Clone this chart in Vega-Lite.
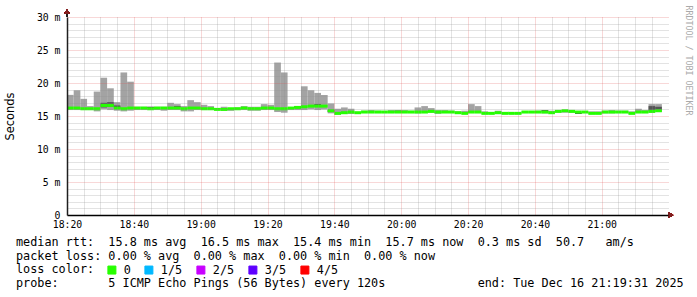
{
  "$schema": "https://vega.github.io/schema/vega-lite/v6.json",
  "width": 601,
  "height": 198,
  "autosize": {"type": "none"},
  "padding": {"left": 67, "top": 17, "right": 29, "bottom": 82},
  "background": "#ffffff",
  "config": {
    "view": {"stroke": null},
    "axis": {"labelFont": "DejaVu Sans Mono", "labelFontSize": 9.8, "labelColor": "#000000"}
  },
  "title": {
    "text": [
      "median rtt:\u00a0\u00a015.8 ms avg\u00a0\u00a016.5 ms max\u00a0\u00a015.4 ms min\u00a0\u00a015.7 ms now\u00a0\u00a00.3 ms sd\u00a0\u00a050.7\u00a0\u00a0\u00a0am/s",
      "packet loss: 0.00 % avg\u00a0\u00a00.00 % max\u00a0\u00a00.00 % min\u00a0\u00a00.00 % now",
      "loss color:",
      "probe:\u00a0\u00a0\u00a0\u00a0\u00a0\u00a0\u00a05 ICMP Echo Pings (56 Bytes) every 120s\u00a0\u00a0\u00a0\u00a0\u00a0\u00a0\u00a0\u00a0\u00a0\u00a0\u00a0\u00a0\u00a0end: Tue Dec 16 21:19:31 2025"
    ],
    "orient": "bottom",
    "anchor": "start",
    "frame": "group",
    "dx": -51,
    "offset": -40,
    "font": "DejaVu Sans Mono",
    "fontSize": 11.8,
    "fontWeight": "normal",
    "color": "#000000",
    "lineHeight": 13.7,
    "baseline": "top"
  },
  "data": {
    "values": [
      {"t": "2025-12-16T18:20", "e": "2025-12-16T18:22", "lo": 15.9, "hi": 18.2, "med": 16.2, "loss": "0"},
      {"t": "2025-12-16T18:22", "e": "2025-12-16T18:24", "lo": 15.9, "hi": 18.9, "med": 16.2, "loss": "0"},
      {"t": "2025-12-16T18:24", "e": "2025-12-16T18:26", "lo": 15.9, "hi": 17.6, "med": 16.1, "loss": "0"},
      {"t": "2025-12-16T18:26", "e": "2025-12-16T18:28", "lo": 15.9, "hi": 16.5, "med": 16.1, "loss": "0"},
      {"t": "2025-12-16T18:28", "e": "2025-12-16T18:30", "lo": 15.7, "hi": 18.7, "med": 16.1, "loss": "0"},
      {"t": "2025-12-16T18:30", "e": "2025-12-16T18:32", "lo": 16.0, "hi": 20.8, "med": 16.6, "dlo": 16.3, "dhi": 17.0, "loss": "0"},
      {"t": "2025-12-16T18:32", "e": "2025-12-16T18:34", "lo": 15.9, "hi": 19.2, "med": 16.6, "dlo": 16.4, "dhi": 17.1, "loss": "0"},
      {"t": "2025-12-16T18:34", "e": "2025-12-16T18:36", "lo": 15.8, "hi": 17.1, "med": 16.2, "dlo": 16.1, "dhi": 16.6, "loss": "0"},
      {"t": "2025-12-16T18:36", "e": "2025-12-16T18:38", "lo": 15.7, "hi": 21.6, "med": 16.1, "loss": "0"},
      {"t": "2025-12-16T18:38", "e": "2025-12-16T18:40", "lo": 15.8, "hi": 20.2, "med": 16.2, "loss": "0"},
      {"t": "2025-12-16T18:40", "e": "2025-12-16T18:42", "lo": 15.9, "hi": 16.4, "med": 16.2, "loss": "0"},
      {"t": "2025-12-16T18:42", "e": "2025-12-16T18:44", "lo": 15.9, "hi": 16.4, "med": 16.2, "loss": "0"},
      {"t": "2025-12-16T18:44", "e": "2025-12-16T18:46", "lo": 15.9, "hi": 16.4, "med": 16.1, "dlo": 16.2, "dhi": 16.4, "loss": "0"},
      {"t": "2025-12-16T18:46", "e": "2025-12-16T18:48", "lo": 15.9, "hi": 16.4, "med": 16.2, "loss": "0"},
      {"t": "2025-12-16T18:48", "e": "2025-12-16T18:50", "lo": 15.8, "hi": 16.4, "med": 16.2, "loss": "0"},
      {"t": "2025-12-16T18:50", "e": "2025-12-16T18:52", "lo": 15.9, "hi": 17.0, "med": 16.2, "loss": "0"},
      {"t": "2025-12-16T18:52", "e": "2025-12-16T18:54", "lo": 15.9, "hi": 16.8, "med": 16.2, "dlo": 16.3, "dhi": 16.5, "loss": "0"},
      {"t": "2025-12-16T18:54", "e": "2025-12-16T18:56", "lo": 15.7, "hi": 16.5, "med": 16.1, "loss": "0"},
      {"t": "2025-12-16T18:56", "e": "2025-12-16T18:58", "lo": 15.7, "hi": 17.4, "med": 16.2, "loss": "0"},
      {"t": "2025-12-16T18:58", "e": "2025-12-16T19:00", "lo": 15.9, "hi": 17.1, "med": 16.2, "loss": "0"},
      {"t": "2025-12-16T19:00", "e": "2025-12-16T19:02", "lo": 15.9, "hi": 16.7, "med": 16.1, "loss": "0"},
      {"t": "2025-12-16T19:02", "e": "2025-12-16T19:04", "lo": 15.9, "hi": 16.5, "med": 16.1, "loss": "0"},
      {"t": "2025-12-16T19:04", "e": "2025-12-16T19:06", "lo": 15.9, "hi": 16.2, "med": 16.0, "loss": "0"},
      {"t": "2025-12-16T19:06", "e": "2025-12-16T19:08", "lo": 15.8, "hi": 16.4, "med": 16.0, "loss": "0"},
      {"t": "2025-12-16T19:08", "e": "2025-12-16T19:10", "lo": 15.8, "hi": 16.2, "med": 16.1, "dlo": 15.9, "dhi": 16.1, "loss": "0"},
      {"t": "2025-12-16T19:10", "e": "2025-12-16T19:12", "lo": 15.9, "hi": 16.3, "med": 16.1, "loss": "0"},
      {"t": "2025-12-16T19:12", "e": "2025-12-16T19:14", "lo": 15.9, "hi": 16.5, "med": 16.2, "loss": "0"},
      {"t": "2025-12-16T19:14", "e": "2025-12-16T19:16", "lo": 15.8, "hi": 16.4, "med": 16.1, "loss": "0"},
      {"t": "2025-12-16T19:16", "e": "2025-12-16T19:18", "lo": 15.8, "hi": 16.4, "med": 16.1, "loss": "0"},
      {"t": "2025-12-16T19:18", "e": "2025-12-16T19:20", "lo": 15.9, "hi": 16.8, "med": 16.2, "loss": "0"},
      {"t": "2025-12-16T19:20", "e": "2025-12-16T19:22", "lo": 15.9, "hi": 16.7, "med": 16.2, "loss": "0"},
      {"t": "2025-12-16T19:22", "e": "2025-12-16T19:24", "lo": 15.6, "hi": 23.1, "med": 16.1, "loss": "0"},
      {"t": "2025-12-16T19:24", "e": "2025-12-16T19:26", "lo": 15.5, "hi": 21.6, "med": 16.1, "loss": "0"},
      {"t": "2025-12-16T19:26", "e": "2025-12-16T19:28", "lo": 15.9, "hi": 16.2, "med": 16.2, "loss": "0"},
      {"t": "2025-12-16T19:28", "e": "2025-12-16T19:30", "lo": 15.9, "hi": 16.4, "med": 16.3, "dlo": 16.2, "dhi": 16.5, "loss": "0"},
      {"t": "2025-12-16T19:30", "e": "2025-12-16T19:32", "lo": 15.9, "hi": 19.5, "med": 16.4, "loss": "0"},
      {"t": "2025-12-16T19:32", "e": "2025-12-16T19:34", "lo": 16.0, "hi": 18.9, "med": 16.5, "loss": "0"},
      {"t": "2025-12-16T19:34", "e": "2025-12-16T19:36", "lo": 15.9, "hi": 18.5, "med": 16.5, "dlo": 16.4, "dhi": 16.8, "loss": "0"},
      {"t": "2025-12-16T19:36", "e": "2025-12-16T19:38", "lo": 16.0, "hi": 18.2, "med": 16.5, "loss": "0"},
      {"t": "2025-12-16T19:38", "e": "2025-12-16T19:40", "lo": 15.4, "hi": 16.9, "med": 15.8, "dlo": 15.6, "dhi": 15.9, "loss": "0"},
      {"t": "2025-12-16T19:40", "e": "2025-12-16T19:42", "lo": 15.2, "hi": 16.1, "med": 15.4, "loss": "0"},
      {"t": "2025-12-16T19:42", "e": "2025-12-16T19:44", "lo": 15.3, "hi": 16.3, "med": 15.5, "loss": "0"},
      {"t": "2025-12-16T19:44", "e": "2025-12-16T19:46", "lo": 15.3, "hi": 16.1, "med": 15.6, "loss": "0"},
      {"t": "2025-12-16T19:46", "e": "2025-12-16T19:48", "lo": 15.4, "hi": 15.6, "med": 15.5, "loss": "0"},
      {"t": "2025-12-16T19:48", "e": "2025-12-16T19:50", "lo": 15.5, "hi": 15.8, "med": 15.6, "loss": "0"},
      {"t": "2025-12-16T19:50", "e": "2025-12-16T19:52", "lo": 15.5, "hi": 15.9, "med": 15.6, "loss": "0"},
      {"t": "2025-12-16T19:52", "e": "2025-12-16T19:54", "lo": 15.5, "hi": 15.8, "med": 15.6, "loss": "0"},
      {"t": "2025-12-16T19:54", "e": "2025-12-16T19:56", "lo": 15.5, "hi": 15.7, "med": 15.6, "loss": "0"},
      {"t": "2025-12-16T19:56", "e": "2025-12-16T19:58", "lo": 15.5, "hi": 15.9, "med": 15.6, "loss": "0"},
      {"t": "2025-12-16T19:58", "e": "2025-12-16T20:00", "lo": 15.5, "hi": 15.9, "med": 15.6, "dlo": 15.5, "dhi": 15.8, "loss": "0"},
      {"t": "2025-12-16T20:00", "e": "2025-12-16T20:02", "lo": 15.5, "hi": 15.9, "med": 15.6, "loss": "0"},
      {"t": "2025-12-16T20:02", "e": "2025-12-16T20:04", "lo": 15.5, "hi": 15.8, "med": 15.6, "loss": "0"},
      {"t": "2025-12-16T20:04", "e": "2025-12-16T20:06", "lo": 15.4, "hi": 16.3, "med": 15.6, "loss": "0"},
      {"t": "2025-12-16T20:06", "e": "2025-12-16T20:08", "lo": 15.5, "hi": 16.5, "med": 15.6, "loss": "0"},
      {"t": "2025-12-16T20:08", "e": "2025-12-16T20:10", "lo": 15.5, "hi": 16.2, "med": 15.7, "loss": "0"},
      {"t": "2025-12-16T20:10", "e": "2025-12-16T20:12", "lo": 15.4, "hi": 15.9, "med": 15.6, "dlo": 15.4, "dhi": 15.6, "loss": "0"},
      {"t": "2025-12-16T20:12", "e": "2025-12-16T20:14", "lo": 15.5, "hi": 15.9, "med": 15.6, "loss": "0"},
      {"t": "2025-12-16T20:14", "e": "2025-12-16T20:16", "lo": 15.5, "hi": 15.8, "med": 15.6, "loss": "0"},
      {"t": "2025-12-16T20:16", "e": "2025-12-16T20:18", "lo": 15.4, "hi": 15.7, "med": 15.5, "loss": "0"},
      {"t": "2025-12-16T20:18", "e": "2025-12-16T20:20", "lo": 15.3, "hi": 15.8, "med": 15.4, "loss": "0"},
      {"t": "2025-12-16T20:20", "e": "2025-12-16T20:22", "lo": 15.5, "hi": 16.8, "med": 15.6, "loss": "0"},
      {"t": "2025-12-16T20:22", "e": "2025-12-16T20:24", "lo": 15.5, "hi": 16.5, "med": 15.6, "loss": "0"},
      {"t": "2025-12-16T20:24", "e": "2025-12-16T20:26", "lo": 15.3, "hi": 15.7, "med": 15.4, "loss": "0"},
      {"t": "2025-12-16T20:26", "e": "2025-12-16T20:28", "lo": 15.3, "hi": 15.6, "med": 15.4, "loss": "0"},
      {"t": "2025-12-16T20:28", "e": "2025-12-16T20:30", "lo": 15.4, "hi": 15.8, "med": 15.5, "loss": "0"},
      {"t": "2025-12-16T20:30", "e": "2025-12-16T20:32", "lo": 15.3, "hi": 15.5, "med": 15.4, "loss": "0"},
      {"t": "2025-12-16T20:32", "e": "2025-12-16T20:34", "lo": 15.3, "hi": 15.5, "med": 15.4, "loss": "0"},
      {"t": "2025-12-16T20:34", "e": "2025-12-16T20:36", "lo": 15.3, "hi": 15.5, "med": 15.4, "loss": "0"},
      {"t": "2025-12-16T20:36", "e": "2025-12-16T20:38", "lo": 15.5, "hi": 15.7, "med": 15.6, "loss": "0"},
      {"t": "2025-12-16T20:38", "e": "2025-12-16T20:40", "lo": 15.5, "hi": 15.7, "med": 15.6, "loss": "0"},
      {"t": "2025-12-16T20:40", "e": "2025-12-16T20:42", "lo": 15.5, "hi": 15.8, "med": 15.6, "loss": "0"},
      {"t": "2025-12-16T20:42", "e": "2025-12-16T20:44", "lo": 15.4, "hi": 15.9, "med": 15.6, "dlo": 15.6, "dhi": 15.9, "loss": "0"},
      {"t": "2025-12-16T20:44", "e": "2025-12-16T20:46", "lo": 15.4, "hi": 15.8, "med": 15.5, "loss": "0"},
      {"t": "2025-12-16T20:46", "e": "2025-12-16T20:48", "lo": 15.5, "hi": 15.9, "med": 15.7, "loss": "0"},
      {"t": "2025-12-16T20:48", "e": "2025-12-16T20:50", "lo": 15.5, "hi": 15.9, "med": 15.8, "loss": "0"},
      {"t": "2025-12-16T20:50", "e": "2025-12-16T20:52", "lo": 15.5, "hi": 15.8, "med": 15.7, "loss": "0"},
      {"t": "2025-12-16T20:52", "e": "2025-12-16T20:54", "lo": 15.3, "hi": 15.7, "med": 15.6, "dlo": 15.3, "dhi": 15.5, "loss": "0"},
      {"t": "2025-12-16T20:54", "e": "2025-12-16T20:56", "lo": 15.5, "hi": 15.7, "med": 15.6, "loss": "0"},
      {"t": "2025-12-16T20:56", "e": "2025-12-16T20:58", "lo": 15.3, "hi": 15.7, "med": 15.4, "loss": "0"},
      {"t": "2025-12-16T20:58", "e": "2025-12-16T21:00", "lo": 15.3, "hi": 15.7, "med": 15.4, "loss": "0"},
      {"t": "2025-12-16T21:00", "e": "2025-12-16T21:02", "lo": 15.4, "hi": 15.8, "med": 15.6, "loss": "0"},
      {"t": "2025-12-16T21:02", "e": "2025-12-16T21:04", "lo": 15.4, "hi": 15.9, "med": 15.6, "loss": "0"},
      {"t": "2025-12-16T21:04", "e": "2025-12-16T21:06", "lo": 15.5, "hi": 15.8, "med": 15.6, "loss": "0"},
      {"t": "2025-12-16T21:06", "e": "2025-12-16T21:08", "lo": 15.5, "hi": 15.8, "med": 15.6, "loss": "0"},
      {"t": "2025-12-16T21:08", "e": "2025-12-16T21:10", "lo": 15.3, "hi": 15.7, "med": 15.4, "loss": "0"},
      {"t": "2025-12-16T21:10", "e": "2025-12-16T21:12", "lo": 15.5, "hi": 16.1, "med": 15.6, "loss": "0"},
      {"t": "2025-12-16T21:12", "e": "2025-12-16T21:14", "lo": 15.5, "hi": 15.9, "med": 15.6, "loss": "0"},
      {"t": "2025-12-16T21:14", "e": "2025-12-16T21:16", "lo": 15.5, "hi": 16.8, "med": 15.7, "dlo": 15.8, "dhi": 16.5, "loss": "0"},
      {"t": "2025-12-16T21:16", "e": "2025-12-16T21:18", "lo": 15.6, "hi": 16.8, "med": 15.8, "dlo": 15.9, "dhi": 16.4, "loss": "0"}
    ]
  },
  "resolve": {"axis": {"x": "independent", "y": "independent"}},
  "layer": [
    {
      "mark": {"type": "rect", "fill": "#a3a3a3"},
      "encoding": {
        "x": {
          "field": "t", "type": "temporal",
          "scale": {"domain": [{"year": 2025, "month": 12, "date": 16, "hours": 18, "minutes": 20}, {"year": 2025, "month": 12, "date": 16, "hours": 21, "minutes": 19, "seconds": 50}], "nice": false},
          "axis": {"orient": "bottom", "values": [
            {"year": 2025, "month": 12, "date": 16, "hours": 18, "minutes": 25},
            {"year": 2025, "month": 12, "date": 16, "hours": 18, "minutes": 30},
            {"year": 2025, "month": 12, "date": 16, "hours": 18, "minutes": 35},
            {"year": 2025, "month": 12, "date": 16, "hours": 18, "minutes": 45},
            {"year": 2025, "month": 12, "date": 16, "hours": 18, "minutes": 50},
            {"year": 2025, "month": 12, "date": 16, "hours": 18, "minutes": 55},
            {"year": 2025, "month": 12, "date": 16, "hours": 19, "minutes": 5},
            {"year": 2025, "month": 12, "date": 16, "hours": 19, "minutes": 10},
            {"year": 2025, "month": 12, "date": 16, "hours": 19, "minutes": 15},
            {"year": 2025, "month": 12, "date": 16, "hours": 19, "minutes": 25},
            {"year": 2025, "month": 12, "date": 16, "hours": 19, "minutes": 30},
            {"year": 2025, "month": 12, "date": 16, "hours": 19, "minutes": 35},
            {"year": 2025, "month": 12, "date": 16, "hours": 19, "minutes": 45},
            {"year": 2025, "month": 12, "date": 16, "hours": 19, "minutes": 50},
            {"year": 2025, "month": 12, "date": 16, "hours": 19, "minutes": 55},
            {"year": 2025, "month": 12, "date": 16, "hours": 20, "minutes": 5},
            {"year": 2025, "month": 12, "date": 16, "hours": 20, "minutes": 10},
            {"year": 2025, "month": 12, "date": 16, "hours": 20, "minutes": 15},
            {"year": 2025, "month": 12, "date": 16, "hours": 20, "minutes": 25},
            {"year": 2025, "month": 12, "date": 16, "hours": 20, "minutes": 30},
            {"year": 2025, "month": 12, "date": 16, "hours": 20, "minutes": 35},
            {"year": 2025, "month": 12, "date": 16, "hours": 20, "minutes": 45},
            {"year": 2025, "month": 12, "date": 16, "hours": 20, "minutes": 50},
            {"year": 2025, "month": 12, "date": 16, "hours": 20, "minutes": 55},
            {"year": 2025, "month": 12, "date": 16, "hours": 21, "minutes": 5},
            {"year": 2025, "month": 12, "date": 16, "hours": 21, "minutes": 10},
            {"year": 2025, "month": 12, "date": 16, "hours": 21, "minutes": 15}
          ], "grid": true, "gridColor": "#8f8f8f", "gridOpacity": 0.5, "gridDash": [1, 1], "gridWidth": 1, "labels": false, "ticks": false, "domain": false, "title": null, "zindex": 1}
        },
        "x2": {"field": "e"},
        "y": {
          "field": "lo", "type": "quantitative",
          "scale": {"domain": [0, 30], "nice": false},
          "axis": {"orient": "left", "values": [1, 2, 3, 4, 6, 7, 8, 9, 11, 12, 13, 14, 16, 17, 18, 19, 21, 22, 23, 24, 26, 27, 28, 29], "grid": true, "gridColor": "#8f8f8f", "gridOpacity": 0.5, "gridDash": [1, 1], "gridWidth": 1, "labels": false, "ticks": false, "domain": false, "title": null, "zindex": 1}
        },
        "y2": {"field": "hi"}
      }
    },
    {
      "mark": {"type": "rect", "fill": "#555555"},
      "encoding": {
        "x": {
          "field": "t", "type": "temporal",
          "axis": {"orient": "bottom", "values": [
            {"year": 2025, "month": 12, "date": 16, "hours": 18, "minutes": 20},
            {"year": 2025, "month": 12, "date": 16, "hours": 18, "minutes": 40},
            {"year": 2025, "month": 12, "date": 16, "hours": 19, "minutes": 0},
            {"year": 2025, "month": 12, "date": 16, "hours": 19, "minutes": 20},
            {"year": 2025, "month": 12, "date": 16, "hours": 19, "minutes": 40},
            {"year": 2025, "month": 12, "date": 16, "hours": 20, "minutes": 0},
            {"year": 2025, "month": 12, "date": 16, "hours": 20, "minutes": 20},
            {"year": 2025, "month": 12, "date": 16, "hours": 20, "minutes": 40},
            {"year": 2025, "month": 12, "date": 16, "hours": 21, "minutes": 0}
          ], "format": "%H:%M", "grid": true, "gridColor": "#de4f4f", "gridOpacity": 0.45, "gridDash": [1, 1], "gridWidth": 1, "labels": true, "labelPadding": 4, "labelFlush": false, "labelOverlap": false, "ticks": false, "domain": true, "domainColor": "#000000", "domainWidth": 1.5, "title": null, "zindex": 1}
        },
        "x2": {"field": "e"},
        "y": {
          "field": "dlo", "type": "quantitative",
          "axis": {"orient": "left", "values": [0, 5, 10, 15, 20, 25, 30], "labelExpr": "datum.value == 0 ? '0' : datum.value + ' m'", "grid": true, "gridColor": "#de4f4f", "gridOpacity": 0.45, "gridDash": [1, 1], "gridWidth": 1, "labels": true, "labelPadding": 7, "ticks": false, "domain": true, "domainColor": "#1f1f1f", "domainWidth": 1.5, "title": "Seconds", "titleFont": "DejaVu Sans", "titleFontSize": 11.4, "titleFontWeight": "normal", "titleColor": "#000000", "titleAngle": -90, "titleAlign": "center", "titleBaseline": "middle", "titleX": -57, "titleY": 99, "zindex": 1,
            "encode": {"labels": {"update": {"dx": {"signal": "datum.value == 0 ? -12 : 0"}}}}}
        },
        "y2": {"field": "dhi"}
      }
    },
    {
      "mark": {"type": "rule", "strokeWidth": 3},
      "encoding": {
        "x": {"field": "t", "type": "temporal", "axis": null},
        "x2": {"field": "e"},
        "y": {
          "field": "med", "type": "quantitative",
          "axis": {"orient": "right", "grid": false, "labels": false, "ticks": false, "domain": false, "title": "RRDTOOL / TOBI OETIKER", "titleFont": "DejaVu Sans Mono", "titleFontSize": 8.3, "titleFontWeight": "normal", "titleColor": "#aaaaaa", "titleAngle": 90, "titleAlign": "left", "titleBaseline": "middle", "titleX": 19, "titleY": -12}
        },
        "color": {
          "field": "loss", "type": "nominal",
          "scale": {"domain": ["0", "1/5", "2/5", "3/5", "4/5"], "range": ["#26ff00", "#00b8ff", "#c800ff", "#5e00ff", "#ff0000"]},
          "legend": {
            "orient": "none", "legendX": 39, "legendY": 247, "direction": "horizontal", "title": null,
            "symbolType": "square", "symbolSize": 64, "symbolStrokeWidth": 1, "symbolStrokeColor": "#000000",
            "labelFont": "DejaVu Sans Mono", "labelFontSize": 11.8, "labelColor": "#000000", "labelOffset": 6,
            "columnPadding": 11, "padding": 0,
            "encode": {"symbols": {"update": {"fill": {"scale": "color", "field": "value"}, "stroke": {"value": "#000000"}, "strokeWidth": {"value": 1}, "opacity": {"value": 1}}}}
          }
        }
      }
    },
    {
      "mark": {"type": "rule", "color": "#1f1f1f", "strokeWidth": 1.5},
      "encoding": {
        "x": {"datum": {"year": 2025, "month": 12, "date": 16, "hours": 18, "minutes": 20}, "type": "temporal", "axis": null},
        "y": {"datum": 30, "type": "quantitative", "axis": null},
        "y2": {"datum": 30.7}
      }
    },
    {
      "mark": {"type": "point", "shape": "triangle-up", "filled": true, "color": "#801f1f", "size": 30, "opacity": 1},
      "encoding": {
        "x": {"datum": {"year": 2025, "month": 12, "date": 16, "hours": 18, "minutes": 20}, "type": "temporal", "axis": null},
        "y": {"datum": 30.8, "type": "quantitative", "axis": null}
      }
    },
    {
      "mark": {"type": "point", "shape": "triangle-right", "filled": true, "color": "#801f1f", "size": 30, "opacity": 1},
      "encoding": {
        "x": {"datum": {"year": 2025, "month": 12, "date": 16, "hours": 21, "minutes": 20, "seconds": 40}, "type": "temporal", "axis": null},
        "y": {"datum": 0, "type": "quantitative", "axis": null}
      }
    }
  ]
}
